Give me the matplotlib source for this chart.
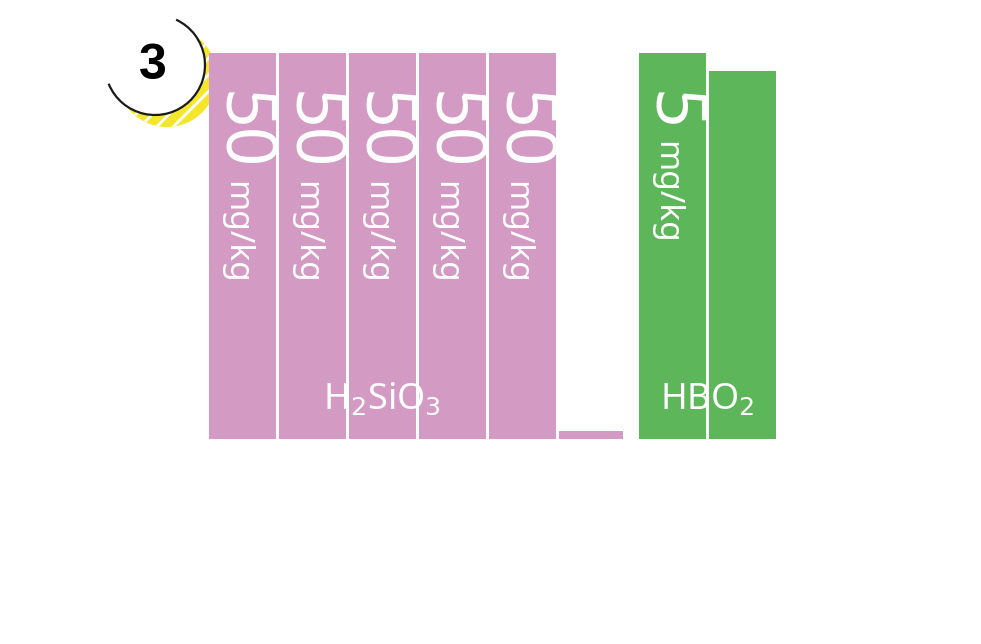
import matplotlib.pyplot as plt
from matplotlib.patches import Circle, Arc

plt.rcParams['font.family'] = ['Noto Sans', 'DejaVu Sans']
plt.rcParams['hatch.linewidth'] = 2.0

# data
pink_values = [50, 50, 50, 50, 50, 1]
pink_labels = ['50', '50', '50', '50', '50', '']
green_values = [5, 4.77]
green_labels = ['5', '']
unit = 'mg/kg'

PINK = '#d39bc3'
GREEN = '#5db75a'

fig = plt.figure(figsize=(9.81, 6.44), dpi=100)
ax = fig.add_axes([0, 0, 1, 1])
ax.set_xlim(0, 981)
ax.set_ylim(644, 0)
ax.axis('off')

base = 439
full = 386
pink_x = [242, 312, 382, 452, 522, 591]
green_x = [672, 742]

# badge behind the bars
ax.add_patch(Circle((167, 77), 50, facecolor='#f4e62b', edgecolor='white',
                    hatch='//', lw=0, zorder=1))
ax.add_patch(Circle((155, 65), 50, facecolor='white', lw=0, zorder=2))
ax.add_patch(Arc((155, 65), 100, 100, theta1=-65, theta2=158,
                 color='#1a1a1a', lw=1.6, zorder=3))
ax.text(153, 66, '3', fontsize=36, fontweight='bold', family='Liberation Sans',
        ha='center', va='center', zorder=4)

pink_h = [v / 50 * full for v in pink_values]
green_h = [v / 5 * full for v in green_values]
ax.bar(pink_x[:5], pink_h[:5], width=67, bottom=[base - h for h in pink_h[:5]],
       color=PINK, zorder=5)
ax.bar(pink_x[5], pink_h[5], width=64, bottom=base - pink_h[5], color=PINK, zorder=5)
ax.bar(green_x, green_h, width=67, bottom=[base - h for h in green_h],
       color=GREEN, zorder=5)

for x, h, lab in zip(pink_x + green_x, pink_h + green_h, pink_labels + green_labels):
    if not lab:
        continue
    top = base - h
    ax.text(x - 2, top + 38, lab, rotation=-90, rotation_mode='anchor',
            ha='left', va='center', fontsize=50, fontweight='bold',
            color='white', zorder=6)
    off = 38 + 40 * len(lab) + 10
    ax.text(x - 6, top + off, unit, rotation=-90, rotation_mode='anchor',
            ha='left', va='center', fontsize=24, color='white', zorder=6)

ax.text(382, 400, 'H$_2$SiO$_3$', fontsize=26, fontweight='bold', color='white',
        ha='center', va='center', zorder=6)
ax.text(707, 400, 'HBO$_2$', fontsize=26, fontweight='bold', color='white',
        ha='center', va='center', zorder=6)

fig.savefig('out.png', dpi=100)
